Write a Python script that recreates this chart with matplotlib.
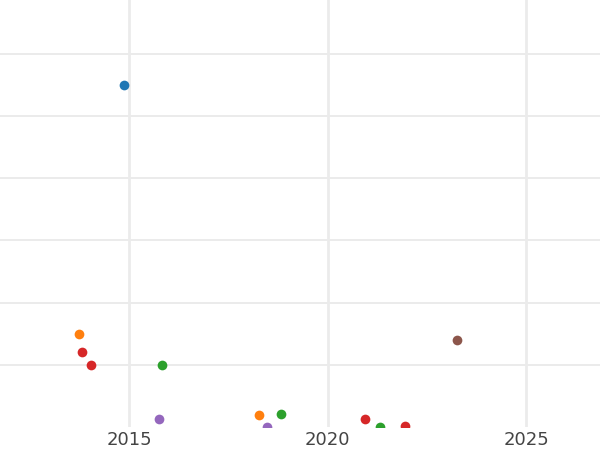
import matplotlib
matplotlib.use("Agg")
import matplotlib.pyplot as plt

# points (year, value), grouped by colour
years_blue = [2014.87]
vals_blue = [5.50]
years_orange = [2013.74, 2018.27]
vals_orange = [1.50, 0.19]
years_red = [2013.81, 2014.04, 2020.93, 2021.94]
vals_red = [1.21, 1.00, 0.13, 0.01]
years_green = [2015.83, 2018.83, 2021.31]
vals_green = [1.00, 0.21, 0.0]
years_purple = [2015.76, 2018.47]
vals_purple = [0.13, 0.0]
years_brown = [2023.27]
vals_brown = [1.40]

xticks = [2015, 2020, 2025]
yticks = [1, 2, 3, 4, 5, 6]

series = [
    (years_blue, vals_blue, "#1f77b4"),
    (years_orange, vals_orange, "#ff7f0e"),
    (years_red, vals_red, "#d62728"),
    (years_green, vals_green, "#2ca02c"),
    (years_purple, vals_purple, "#9467bd"),
    (years_brown, vals_brown, "#8c564b"),
]

fig = plt.figure(figsize=(6, 4.5), dpi=100)
ax = fig.add_axes([0, 0.0511, 1, 0.9489])

for xs, ys, col in series:
    ax.plot(xs, ys, "o", color=col, markersize=7, markeredgewidth=0, zorder=3)

ax.set_xlim(2011.75, 2026.86)
ax.set_ylim(0, 6.86)
ax.set_xticks(xticks)
ax.set_yticks(yticks)
ax.set_yticklabels([])
ax.tick_params(axis="x", length=0, labelsize=13, labelcolor="#444444", pad=3)
ax.tick_params(axis="y", length=0)
ax.grid(axis="x", color="#ebebeb", linewidth=2)
ax.grid(axis="y", color="#ebebeb", linewidth=1.4)
ax.set_axisbelow(True)
for s in ax.spines.values():
    s.set_visible(False)

fig.savefig("out.png", dpi=100)
